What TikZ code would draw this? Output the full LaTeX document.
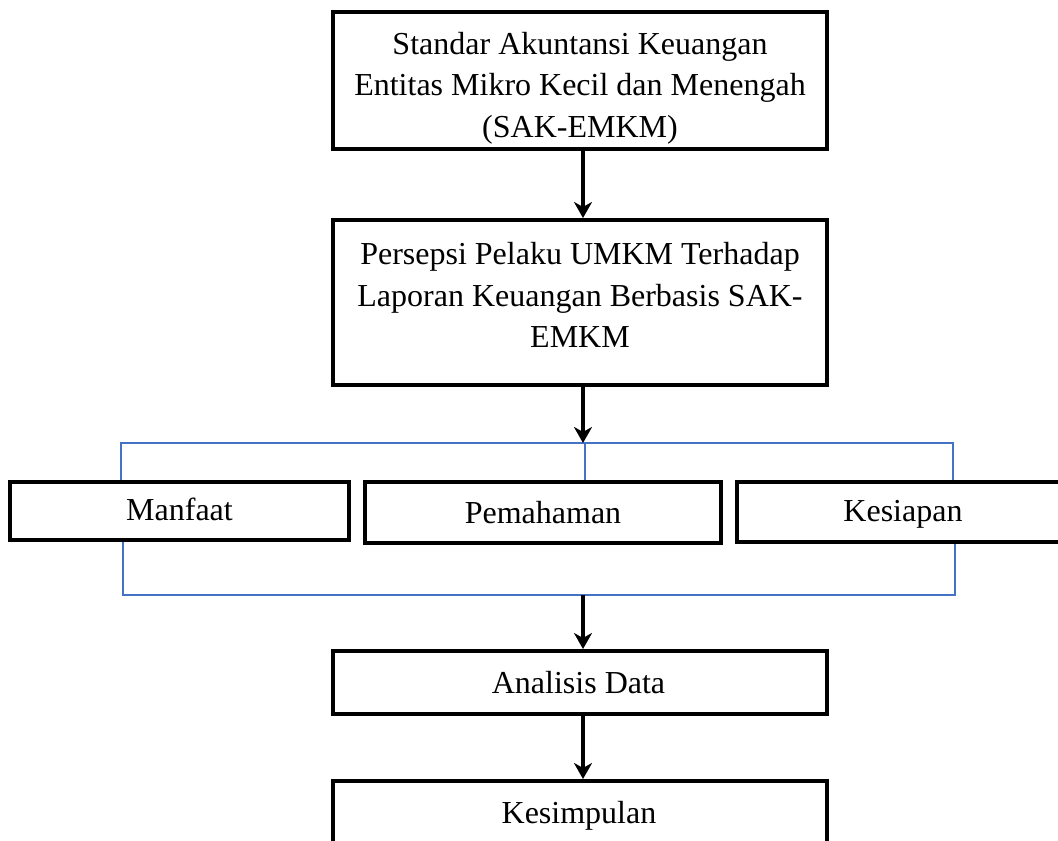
\documentclass[tikz,border=0pt]{standalone}
\usepackage{fontspec}
\setmainfont{Liberation Serif}
\usetikzlibrary{arrows.meta}
\definecolor{bluecol}{HTML}{4472C4}
\begin{document}
\begin{tikzpicture}[x=1pt,y=-1pt,
  box/.style={draw, line width=4pt, rectangle, inner sep=0pt},
  lbl/.style={font=\fontsize{32}{41.5}\selectfont, align=center, inner sep=0pt},
  arr/.style={line width=4pt, -{Stealth[length=16pt,width=18pt,inset=5pt]}},
  bline/.style={draw=bluecol, line width=1.3pt}]
\useasboundingbox[fill=white] (0,0) rectangle (1058,841);
% boxes
\node[box, minimum width=494pt, minimum height=137pt] (b1) at (580,80.5) {};
\node[box, minimum width=494pt, minimum height=165pt] (b2) at (580,302.5) {};
\node[box, minimum width=339pt, minimum height=58pt] (m) at (179.5,511) {};
\node[box, minimum width=356pt, minimum height=61pt] (p) at (543,512.5) {};
\node[box, minimum width=327pt, minimum height=60pt] (k) at (900.5,512) {};
\node[box, minimum width=494pt, minimum height=63pt] (a) at (580,682.5) {};
\node[box, minimum width=494pt, minimum height=64pt] (s) at (580,813) {};
% texts
\node[lbl] (t1) at ([yshift=-7.5pt]b1.center) {Standar Akuntansi Keuangan\\Entitas Mikro Kecil dan Menengah\\(SAK-EMKM)};
\node[lbl] (t2) at ([yshift=7.5pt]b2.center) {Persepsi Pelaku UMKM Terhadap\\Laporan Keuangan Berbasis SAK-\\EMKM};
\node[lbl] (tm) at ([yshift=2pt]m.center) {Manfaat};
\node[lbl] (tp) at (p.center) {Pemahaman};
\node[lbl] (tk) at ([yshift=-2pt,xshift=2.5pt]k.center) {Kesiapan};
\node[lbl] (ta) at ([xshift=-1.5pt]a.center) {Analisis Data};
\node[lbl] (ts) at ([yshift=-3pt,xshift=-1pt]s.center) {Kesimpulan};
% blue bracket
\coordinate (tl) at (121,443);
\coordinate (tc) at (585,443);
\coordinate (tr) at (953,443);
\coordinate (bl) at (123,595);
\coordinate (bc) at (583,595);
\coordinate (br) at (955,595);
\draw[bline] (tl |- m.north) -- (tl) -- (tr) -- (tr |- k.north);
\draw[bline] (tc) -- (tc |- p.north);
\draw[bline] (bl |- m.south) -- (bl) -- (br) -- (br |- k.south);
% arrows
\draw[arr] ([xshift=3pt]b1.south) -- ([xshift=3pt]b2.north);
\draw[arr] ([xshift=3pt]b2.south) -- ([xshift=-2pt]tc);
\draw[arr] (bc) -- ([xshift=3pt]a.north);
\draw[arr] ([xshift=3pt]a.south) -- ([xshift=3pt]s.north);
\end{tikzpicture}
\end{document}
